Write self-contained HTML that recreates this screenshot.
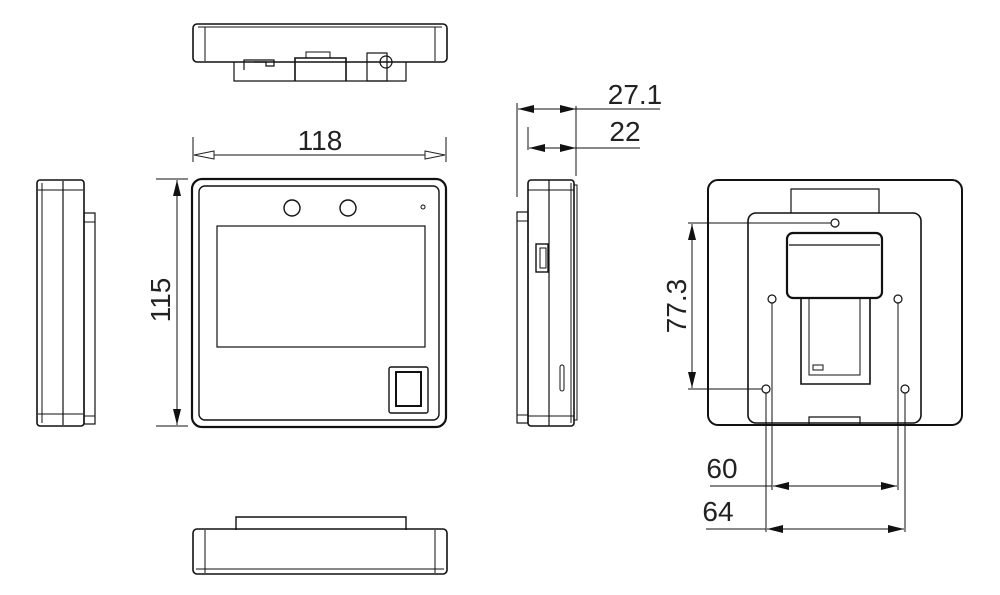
<!DOCTYPE html>
<html><head><style>
html,body{margin:0;padding:0;background:#fff}
svg{display:block}
text{font-family:"Liberation Sans",sans-serif;fill:#222}
</style></head><body>
<svg width="1000" height="595" viewBox="0 0 1000 595" xmlns="http://www.w3.org/2000/svg">
<defs>
<marker id="fa" markerWidth="16" markerHeight="8" refX="16" refY="4" orient="auto-start-reverse" markerUnits="userSpaceOnUse"><path d="M0,0 L16,4 L0,8 Z" fill="#111"/></marker>
<marker id="oa" markerWidth="22" markerHeight="10" refX="21" refY="5" orient="auto-start-reverse" markerUnits="userSpaceOnUse"><path d="M1,1 L21,5 L1,9 Z" fill="#fff" stroke="#222" stroke-width="1"/></marker>
</defs>
<g fill="none" stroke="#111" stroke-width="1.6">
<!-- top view -->
<rect x="193" y="24" width="254" height="38" rx="4"/>
<line x1="198" y1="27" x2="442" y2="27" stroke-width="1"/>
<line x1="205" y1="27" x2="205" y2="61" stroke-width="1"/>
<line x1="435" y1="27" x2="435" y2="61" stroke-width="1"/>
<path d="M234 62 V81 H406 V62" stroke-width="1.2"/>
<path d="M244 70 V60 H274 V66 H266 V62 H254" stroke-width="1.2"/>
<path d="M295 81 V58 H346 V81" />
<path d="M306 58 V52 H330 V58" stroke-width="1"/>
<rect x="367" y="53" width="20" height="28" stroke-width="1.2"/>
<circle cx="386" cy="62" r="6" stroke-width="1.2"/>
<!-- dim 118 -->
<line x1="193" y1="137" x2="193" y2="162" stroke-width="1"/>
<line x1="446" y1="137" x2="446" y2="162" stroke-width="1"/>
<line x1="194" y1="155" x2="445" y2="155" stroke-width="1" marker-start="url(#oa)" marker-end="url(#oa)"/>
<!-- front -->
<rect x="192" y="179" width="254" height="248" rx="10" stroke-width="2.2"/>
<rect x="199" y="186" width="240" height="234" rx="6" stroke-width="1.4"/>
<rect x="217" y="226" width="208" height="121" stroke-width="1.2"/>
<circle cx="292" cy="208" r="8" stroke-width="1.4"/>
<circle cx="348" cy="208" r="8" stroke-width="1.4"/>
<circle cx="423" cy="207" r="2" stroke-width="1"/>
<rect x="389" y="367" width="39" height="46" rx="2" stroke-width="1.4"/>
<rect x="396" y="372" width="25" height="34" stroke-width="2"/>
<!-- dim 115 -->
<line x1="156" y1="179" x2="188" y2="179" stroke-width="1"/>
<line x1="156" y1="426" x2="188" y2="426" stroke-width="1"/>
<line x1="177" y1="180" x2="177" y2="425" stroke-width="1" marker-start="url(#fa)" marker-end="url(#fa)"/>
<!-- left side -->
<rect x="37" y="180" width="47" height="246" rx="3"/>
<line x1="42" y1="183" x2="42" y2="423" stroke-width="1"/>
<line x1="63" y1="181" x2="63" y2="425" stroke-width="1.2"/>
<line x1="38" y1="190" x2="83" y2="190" stroke-width="1"/>
<line x1="38" y1="414" x2="83" y2="414" stroke-width="1"/>
<rect x="84" y="213" width="11" height="211" stroke-width="1.2"/>
<line x1="84" y1="222" x2="95" y2="222" stroke-width="1"/>
<line x1="84" y1="416" x2="95" y2="416" stroke-width="1"/>
<!-- right side -->
<rect x="528" y="180" width="46" height="246" rx="3"/>
<line x1="549" y1="180" x2="549" y2="426" stroke-width="1.2"/>
<line x1="528" y1="190" x2="574" y2="190" stroke-width="1"/>
<line x1="528" y1="416" x2="574" y2="416" stroke-width="1"/>
<line x1="571" y1="183" x2="571" y2="423" stroke-width="1"/>
<rect x="574" y="185" width="3" height="235" stroke-width="1"/>
<rect x="517" y="212" width="11" height="211" stroke-width="1.2"/>
<line x1="517" y1="221" x2="528" y2="221" stroke-width="1"/>
<line x1="517" y1="415" x2="528" y2="415" stroke-width="1"/>
<rect x="536" y="244" width="12" height="28" stroke-width="1.4"/>
<rect x="540" y="248" width="6" height="20" stroke-width="1"/>
<rect x="560" y="365" width="4" height="26" rx="2" stroke-width="1"/>
<!-- dims 27.1 / 22 -->
<line x1="517" y1="103" x2="517" y2="197" stroke-width="1"/>
<line x1="576" y1="106" x2="576" y2="176" stroke-width="1"/>
<line x1="528" y1="127" x2="528" y2="150" stroke-width="1"/>
<line x1="518" y1="109" x2="576" y2="109" stroke-width="1" marker-start="url(#fa)" marker-end="url(#fa)"/>
<line x1="576" y1="109" x2="660" y2="109" stroke-width="1"/>
<line x1="529" y1="148" x2="576" y2="148" stroke-width="1" marker-start="url(#fa)" marker-end="url(#fa)"/>
<line x1="576" y1="148" x2="640" y2="148" stroke-width="1"/>
<!-- back view -->
<rect x="708" y="180" width="254" height="245" rx="10" stroke-width="2"/>
<path d="M791 213 V189 H879 V213" stroke-width="1.2"/>
<rect x="748" y="213" width="173" height="210" rx="8" stroke-width="1.6"/>
<circle cx="835" cy="223" r="4" stroke-width="1.2"/>
<circle cx="772" cy="299" r="4" stroke-width="1.2"/>
<circle cx="898" cy="299" r="4" stroke-width="1.2"/>
<circle cx="766" cy="389" r="4" stroke-width="1.2"/>
<circle cx="905" cy="389" r="4" stroke-width="1.2"/>
<rect x="787" y="233" width="95" height="65" rx="6" stroke-width="2.2"/>
<line x1="789" y1="245" x2="880" y2="245" stroke-width="1.2"/>
<path d="M801 298 V384 H870 V298" stroke-width="1.6"/>
<path d="M809 298 V375 H860 V298" stroke-width="1"/>
<rect x="813" y="365" width="10" height="5" stroke-width="1"/>
<path d="M809 425 V417 H860 V425" stroke-width="1.2"/>
<!-- dim 77.3 -->
<line x1="688" y1="223" x2="831" y2="223" stroke-width="1"/>
<line x1="688" y1="389" x2="762" y2="389" stroke-width="1"/>
<line x1="692" y1="224" x2="692" y2="388" stroke-width="1" marker-start="url(#fa)" marker-end="url(#fa)"/>
<!-- dims 60/64 -->
<line x1="772" y1="303" x2="772" y2="490" stroke-width="1"/>
<line x1="898" y1="303" x2="898" y2="490" stroke-width="1"/>
<line x1="766" y1="393" x2="766" y2="532" stroke-width="1"/>
<line x1="905" y1="393" x2="905" y2="532" stroke-width="1"/>
<line x1="710" y1="486" x2="772" y2="486" stroke-width="1"/>
<line x1="773" y1="486" x2="897" y2="486" stroke-width="1" marker-start="url(#fa)" marker-end="url(#fa)"/>
<line x1="706" y1="529" x2="766" y2="529" stroke-width="1"/>
<line x1="767" y1="529" x2="904" y2="529" stroke-width="1" marker-start="url(#fa)" marker-end="url(#fa)"/>
<!-- bottom view -->
<path d="M236 530 V517 H406 V530" stroke-width="1.4"/>
<rect x="193" y="529" width="254" height="45" rx="4"/>
<line x1="205" y1="530" x2="205" y2="573" stroke-width="1"/>
<line x1="435" y1="530" x2="435" y2="573" stroke-width="1"/>
<line x1="196" y1="569" x2="444" y2="569" stroke-width="1"/>
</g>
<g font-size="28">
<text x="320" y="150" text-anchor="middle">118</text>
<text x="0" y="0" text-anchor="middle" transform="translate(170,300) rotate(-90)">115</text>
<text x="635" y="104" text-anchor="middle">27.1</text>
<text x="625" y="141" text-anchor="middle">22</text>
<text x="0" y="0" text-anchor="middle" transform="translate(686,306) rotate(-90)">77.3</text>
<text x="722" y="478" text-anchor="middle">60</text>
<text x="718" y="521" text-anchor="middle">64</text>
</g>
</svg>
</body></html>
